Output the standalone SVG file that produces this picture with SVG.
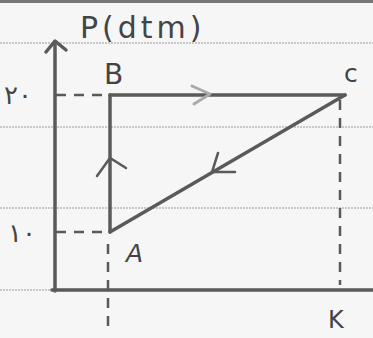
<svg xmlns="http://www.w3.org/2000/svg" width="373" height="338" viewBox="0 0 373 338">
<style>
.paper{fill:#f6f6f6}
.rule{stroke:#9a9a9a;stroke-width:1;stroke-dasharray:2 1}
.pen{stroke:#5a5a5a;stroke-width:3.5;fill:none;stroke-linecap:round;stroke-linejoin:round}
.thin{stroke:#5a5a5a;stroke-width:2.5;fill:none;stroke-linecap:round}
.dash{stroke:#5a5a5a;stroke-width:2.5;fill:none;stroke-dasharray:10 8}
.faint{stroke:#aaaaaa;stroke-width:3;fill:none;stroke-linecap:round;stroke-linejoin:round}
.lbl{font-family:"DejaVu Sans",sans-serif;fill:#444;font-size:22px}
</style>
<rect class="paper" width="373" height="338"/>
<rect x="0" y="0" width="373" height="3" fill="#777"/>
<g id="rules">
<line class="rule" x1="0" y1="43" x2="373" y2="43"/>
<line class="rule" x1="0" y1="127" x2="373" y2="127"/>
<line class="rule" x1="0" y1="208" x2="373" y2="208"/>
<line class="rule" x1="0" y1="290" x2="373" y2="290"/>
</g>
<g id="axes">
<line class="pen" x1="55" y1="42" x2="55" y2="291"/>
<path class="pen" d="M46,52 L55,41 L66,50"/>
<line class="pen" x1="52" y1="290" x2="373" y2="290"/>
<text class="lbl" x="80" y="38" style="font-size:30px;letter-spacing:4px">P(dtm)</text>
<text class="lbl" x="328" y="328" style="font-size:24px">K</text>
<text class="lbl" x="4" y="104" style="font-size:26px">۲۰</text>
<text class="lbl" x="8" y="242" style="font-size:26px">۱۰</text>
</g>
<g id="connectors">
<line class="pen" x1="110" y1="95" x2="345" y2="95"/>
<path class="faint" d="M192,86 L210,94 L194,104"/>
<line class="pen" x1="110" y1="95" x2="110" y2="232"/>
<path class="thin" d="M97,176 L110,158 L126,168"/>
<line class="pen" x1="345" y1="95" x2="110" y2="232"/>
<path class="thin" d="M218,153 L212,172 L235,172"/>
<line class="dash" x1="56" y1="95" x2="104" y2="95"/>
<line class="dash" x1="56" y1="232" x2="106" y2="232"/>
<line class="dash" x1="108" y1="244" x2="108" y2="332"/>
<line class="dash" x1="340" y1="100" x2="340" y2="285"/>
</g>
<g id="node-B"><text class="lbl" x="104" y="84" style="font-size:28px">B</text></g>
<g id="node-C"><text class="lbl" x="344" y="82" style="font-size:25px">c</text></g>
<g id="node-A"><text class="lbl" x="126" y="262" style="font-size:25px;font-style:italic">A</text></g>
</svg>
